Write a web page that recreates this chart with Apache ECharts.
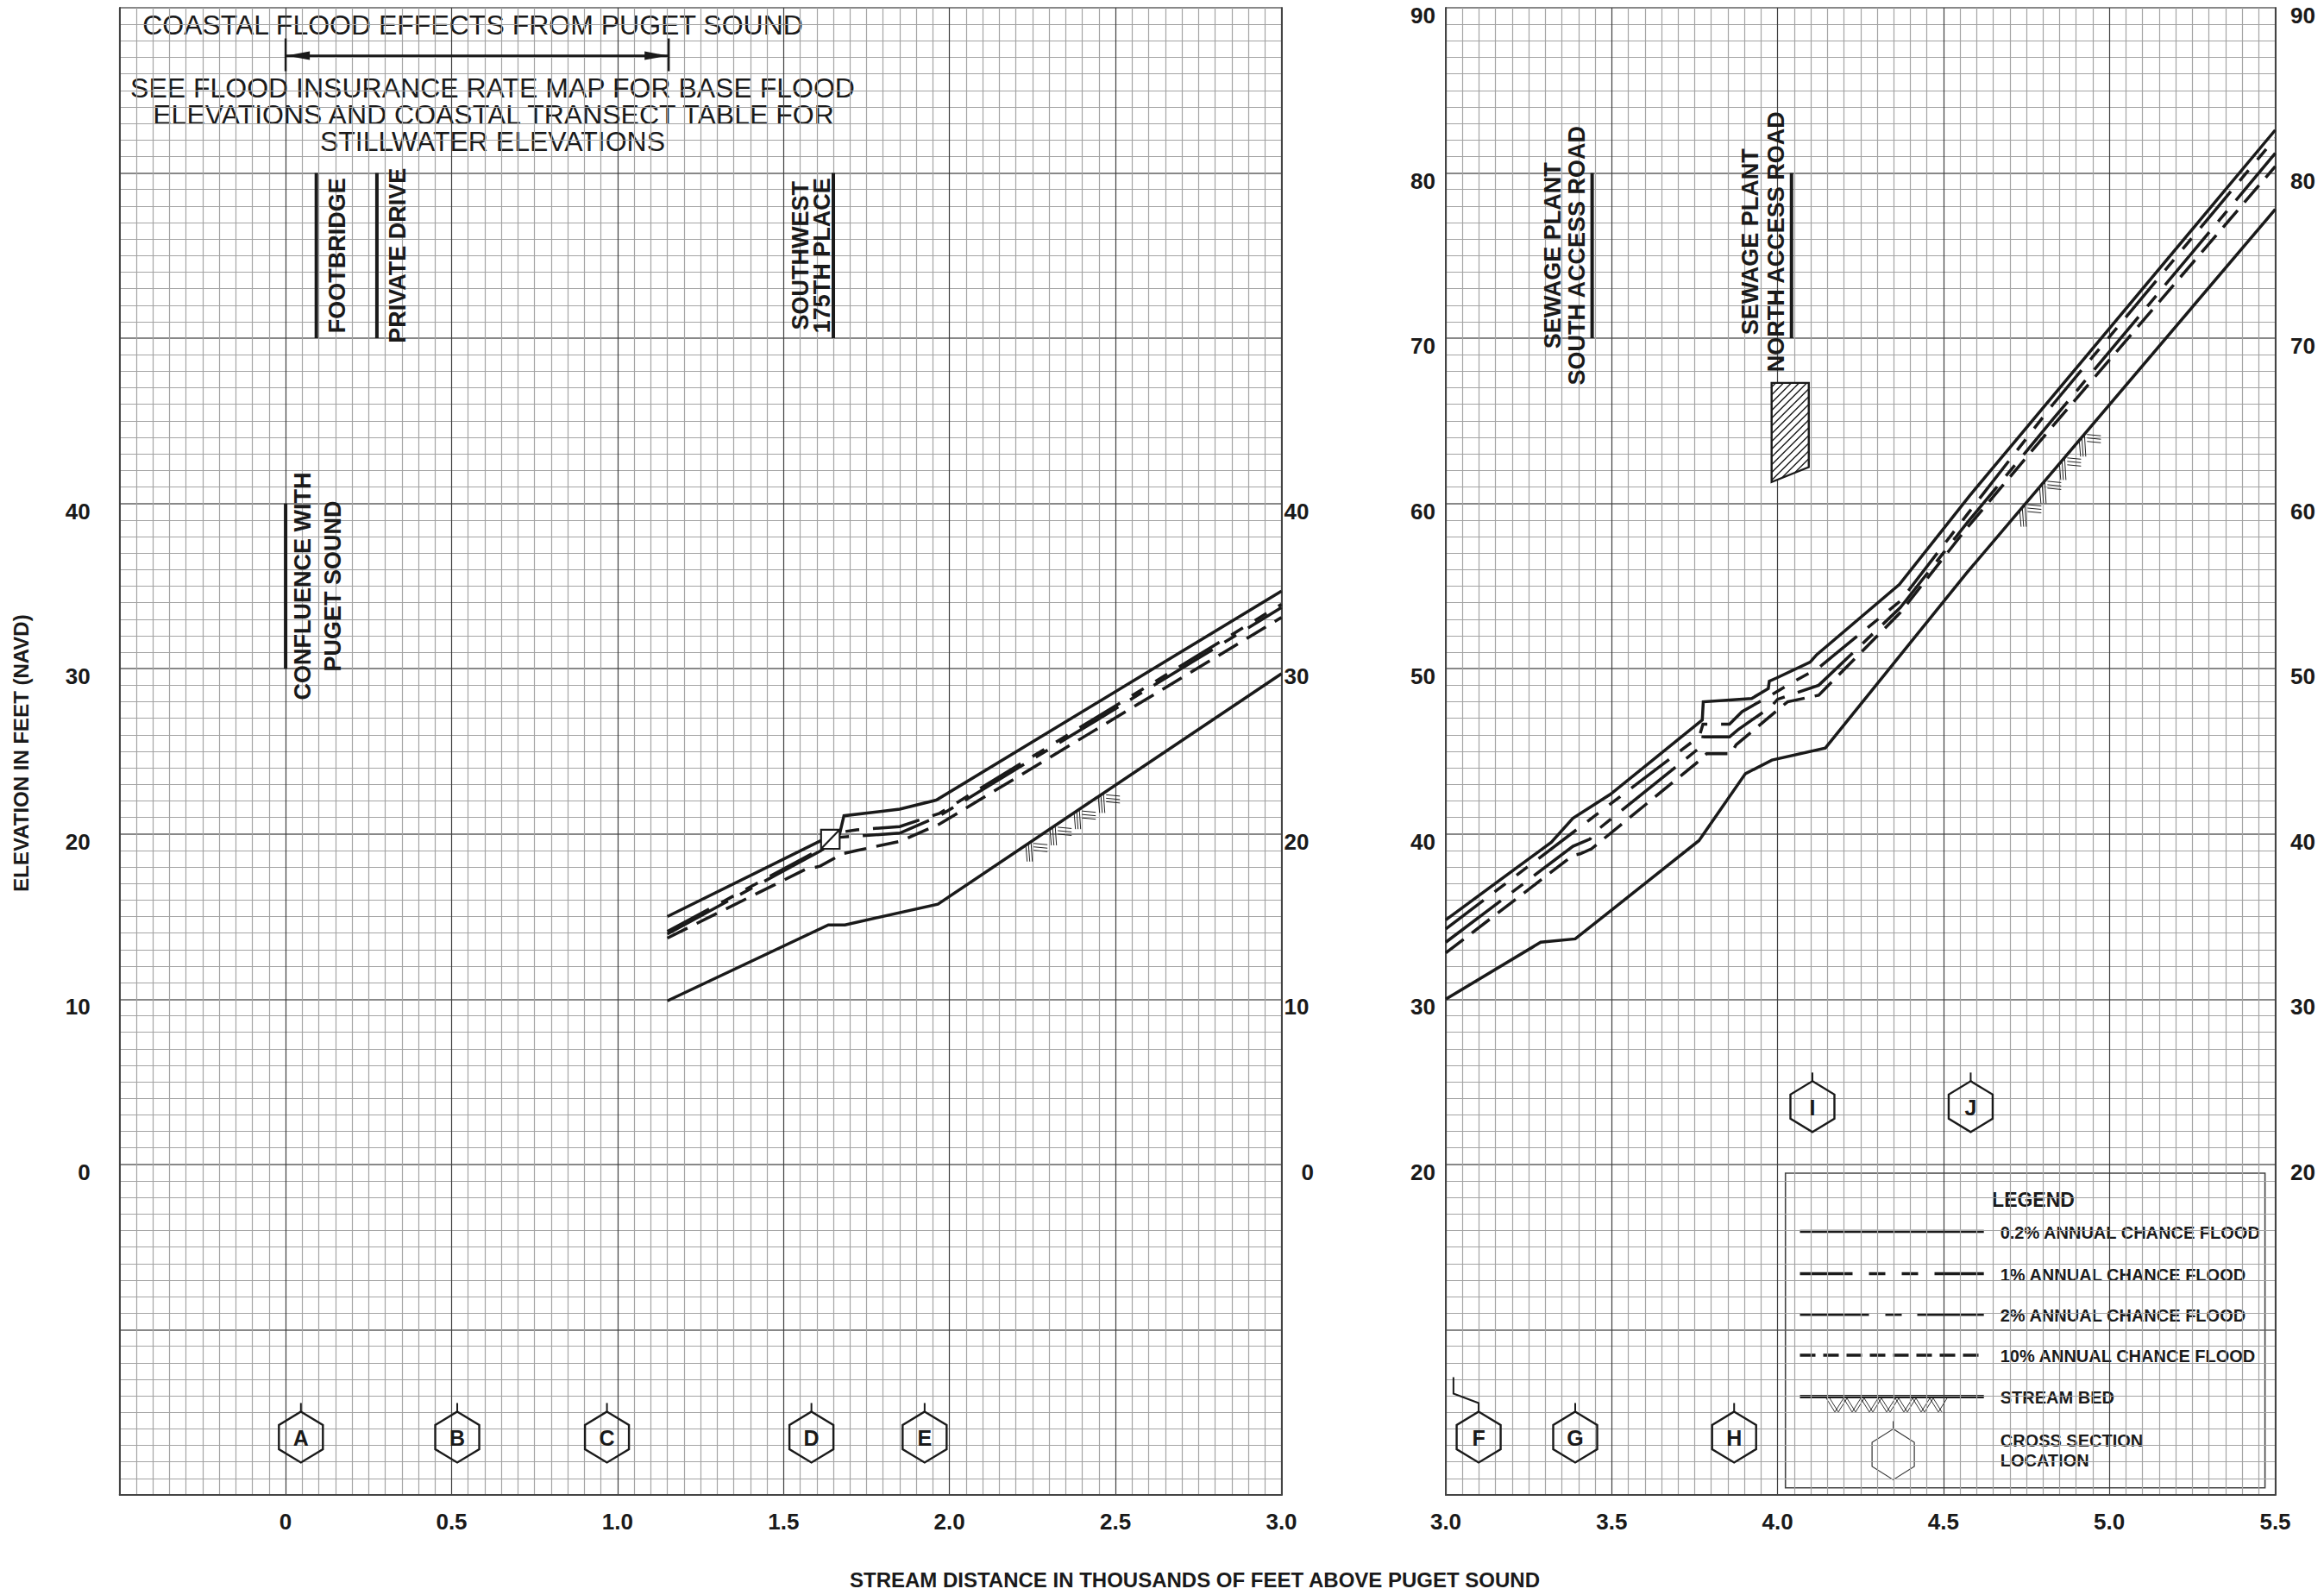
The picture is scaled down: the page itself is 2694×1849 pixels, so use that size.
<!DOCTYPE html>
<html><head><meta charset="utf-8">
<script src="https://cdn.jsdelivr.net/npm/echarts/dist/echarts.min.js"></script>
<style>html,body{margin:0;padding:0;background:#fff;}#c{width:2694px;height:1849px;}</style>
</head><body><div id="c"></div>
<script>
// ================= DATA =================
// tick labels
const xTicksLeft = [0, 0.5, 1.0, 1.5, 2.0, 2.5, 3.0];
const xTicksRight = [3.0, 3.5, 4.0, 4.5, 5.0, 5.5];
const yTicksLeft = [0, 10, 20, 30, 40];
const yTicksRight = [20, 30, 40, 50, 60, 70, 80, 90];

// left panel profiles [stream distance (1000 ft), elevation (ft NAVD)]
const flood02Left = [[1.15,15.0],[1.613,19.6],[1.669,20.0],[1.682,21.1],[1.85,21.5],[1.96,22.05],[3.0,34.7]];
const flood1Left  = [[1.15,14.1],[1.613,19.1],[1.669,20.1],[1.72,20.25],[1.85,20.45],[1.97,21.25],[3.0,33.9]];
const flood2Left  = [[1.15,13.95],[1.613,19.0],[1.669,19.8],[1.85,20.05],[1.97,21.1],[3.0,33.7]];
const flood10Left = [[1.15,13.7],[1.565,17.85],[1.61,18.05],[1.677,18.8],[1.72,19.0],[1.85,19.55],[1.97,20.6],[3.0,33.1]];
const bedLeft     = [[1.15,9.9],[1.635,14.5],[1.685,14.5],[1.965,15.75],[3.0,29.7]];

// right panel profiles
const flood02Right = [[3.0,34.8],[3.318,39.5],[3.383,40.95],[3.496,42.4],[3.773,46.9],[3.776,48.0],[3.922,48.2],[3.972,48.8],[3.975,49.25],[3.998,49.45],[4.098,50.4],[4.118,50.85],[4.367,55.1],[4.58,60.5],[5.5,82.6]];
const flood1Right  = [[3.0,34.25],[3.764,45.9],[3.775,46.65],[3.855,46.65],[3.893,47.4],[3.98,48.4],[4.06,49.35],[4.12,50.0],[4.37,54.1],[4.57,59.3],[4.83,66.0],[5.5,82.1]];
const flood2Right  = [[3.0,33.45],[3.383,39.25],[3.435,39.7],[3.448,40.1],[3.77,45.3],[3.775,45.87],[3.855,45.87],[3.88,46.3],[3.98,47.7],[4.0,48.15],[4.124,49.0],[4.37,53.7],[4.57,58.8],[4.83,65.1],[5.5,81.2]];
const flood10Right = [[3.0,32.8],[3.383,38.7],[3.405,38.8],[3.439,39.1],[3.756,44.3],[3.786,44.86],[3.86,44.86],[3.875,45.4],[4.03,48.0],[4.124,48.4],[4.37,53.4],[4.57,58.5],[4.83,64.7],[5.5,80.4]];
const bedRight     = [[3.0,30.0],[3.286,33.45],[3.39,33.65],[3.5,35.4],[3.763,39.6],[3.903,43.65],[3.983,44.47],[4.144,45.2],[4.57,55.8],[5.5,77.8]];

// stream-bed hatching extents (1000 ft)
const bedHatchLeft = [2.23, 2.52];
const bedHatchRight = [4.73, 4.95];

// cross sections
const xsLettersLeft = ['A','B','C','D','E'];
const xsStationsLeft = [0.046, 0.517, 0.968, 1.584, 1.925];
const xsElevLeft = [-16.5, -16.5, -16.5, -16.5, -16.5];
const xsLettersRight = ['F','G','H','I','J'];
const xsStationsRight = [3.023, 3.39, 3.869, 4.105, 4.582];
const xsLabelPosRight = [3.099, 3.39, 3.869, 4.105, 4.582];
const xsElevRight = [3.5, 3.5, 3.5, 23.5, 23.5];

// structures / road crossings
const roadNamesLeft = ['FOOTBRIDGE', 'PRIVATE DRIVE', 'SOUTHWEST\n175TH PLACE', 'CONFLUENCE WITH\nPUGET SOUND'];
const roadStationsLeft = [0.0925, 0.275, 1.65, 0.0];
const roadLowLeft = [50, 50, 50, 30];
const roadHighLeft = [60, 60, 60, 40];
const roadNamesRight = ['SEWAGE PLANT\nSOUTH ACCESS ROAD', 'SEWAGE PLANT\nNORTH ACCESS ROAD'];
const roadStationsRight = [3.441, 4.042];
const roadLowRight = [70, 70];
const roadHighRight = [80, 80];

// bridge box (left) and road obstruction (right)
const bridgeLeftX = [1.613, 1.669];
const bridgeLeftY = [19.1, 20.26];
const obstructionRight = [[3.982,67.3],[4.094,67.3],[4.094,62.2],[3.982,61.3]];

// coastal flood effects arrow
const coastalFrom = 0.0, coastalTo = 1.154, coastalElev = 67.1;

// texts
const coastalTitle = 'COASTAL FLOOD EFFECTS FROM PUGET SOUND';
const coastalNote = ['SEE FLOOD INSURANCE RATE MAP FOR BASE FLOOD', 'ELEVATIONS AND COASTAL TRANSECT TABLE FOR', 'STILLWATER ELEVATIONS'];
const xTitle = 'STREAM DISTANCE IN THOUSANDS OF FEET ABOVE PUGET SOUND';
const yTitle = 'ELEVATION IN FEET (NAVD)';
const legendLabels = ['0.2% ANNUAL CHANCE FLOOD', '1% ANNUAL CHANCE FLOOD', '2% ANNUAL CHANCE FLOOD', '10% ANNUAL CHANCE FLOOD', 'STREAM BED'];

// ================= STYLE =================
const FONT = '"Liberation Sans", Arial, Helvetica, sans-serif';
const INK = '#1a1a1a';
const DASH1 = [55,16,16,16,16,16];
const DASH2 = [80,16,16,16];
const DASH10 = [26,12];
const LEG_DASH1 = [61,19,19,19,19,19];
const LEG_DASH2 = [80,19,19,18];
const LEG_DASH10 = [18,9];

const roadStyleLeft = {side:['right','right','left','right'], gap:[9,9,1,2], lh:[30,30,25,35], off:[0,0,0,0]};
const roadStyleRight = {side:['left','left'], gap:[4,3], lh:[28,30], off:[0,-16]};

function near(list, v){ return list.some(t => Math.abs(t - v) < 1e-6); }
function fmtX(v){ return Math.abs(v) < 1e-9 ? '0' : v.toFixed(1); }
function interp(arr, x){
  for (let i = 0; i < arr.length - 1; i++) {
    const a = arr[i], b = arr[i+1];
    if (x >= a[0] && x <= b[0]) { const t = (x - a[0]) / ((b[0] - a[0]) || 1); return a[1] + t * (b[1] - a[1]); }
  }
  return arr[arr.length-1][1];
}
function ln(x1,y1,x2,y2,w,c){ return {type:'line', shape:{x1,y1,x2,y2}, style:{stroke:c||INK, lineWidth:w||1}}; }

const labelBase = {fontFamily: FONT, fontWeight: 'bold', fontSize: 26, color: INK};
function xAxisDef(grid, min, max, ticks){
  return {type:'value', gridIndex:grid, min, max, interval:0.5,
    axisLine:{show:true, onZero:false, lineStyle:{color:'#444', width:2}},
    axisTick:{show:false},
    axisLabel: Object.assign({margin:18, showMinLabel:true, showMaxLabel:true, formatter: v => near(ticks, v) ? fmtX(v) : ''}, labelBase),
    splitLine:{show:true, lineStyle:{color:'#404040', width:1.2}},
    minorTick:{show:false, splitNumber:10},
    minorSplitLine:{show:true, lineStyle:{color:'#a4a4a4', width:1.2}}};
}
function yAxisDef(grid, min, max, ticks, pos, margin, grids, zeroShift){
  const rich = {z: {padding:[0,0,0,zeroShift||0], fontFamily:FONT, fontWeight:'bold', fontSize:26, color:INK, lineHeight:18}};
  return {type:'value', gridIndex:grid, min, max, interval:10, position:pos,
    axisLine:{show:true, onZero:false, lineStyle:{color:'#444', width:2}},
    axisTick:{show:false},
    axisLabel: Object.assign({margin, verticalAlign:'top', lineHeight:18, showMinLabel:true, showMaxLabel:true, rich,
      formatter: v => near(ticks, v) ? (zeroShift && Math.abs(v) < 1e-9 ? '{z|0}' : String(Math.round(v))) : ''}, labelBase),
    splitLine:{show:grids, lineStyle:{color:'#606060', width:1.6}},
    minorTick:{show:false, splitNumber:10},
    minorSplitLine:{show:grids, lineStyle:{color:'#a4a4a4', width:1.2}}};
}

function lineSeries(data, xi, yi, type){
  return {type:'line', xAxisIndex:xi, yAxisIndex:yi, data, symbol:'none', showSymbol:false, silent:true, animation:false, z:5,
    lineStyle:{color:INK, width:3.5, type:type, cap:'butt', join:'miter'}};
}

function renderHex(letters, stations){
  return function(params, api){
    const i = api.value(2);
    const p = api.coord([api.value(0), api.value(1)]);
    const cx = p[0], cy = p[1], hw = 25.5, hh = 29.5, hs = 14;
    const pts = [[cx,cy-hh],[cx+hw,cy-hs],[cx+hw,cy+hs],[cx,cy+hh],[cx-hw,cy+hs],[cx-hw,cy-hs]];
    const kids = [{type:'polygon', shape:{points:pts}, style:{fill:'none', stroke:INK, lineWidth:2.4}}];
    const st = api.coord([stations[i], api.value(1)])[0];
    if (Math.abs(st - cx) < 1) kids.push(ln(cx, cy-hh, cx, cy-hh-10, 2));
    else kids.push({type:'polyline', shape:{points:[[cx,cy-hh],[cx,cy-hh-10],[st,cy-hh-21],[st,cy-hh-40]]}, style:{fill:'none', stroke:INK, lineWidth:2}});
    kids.push({type:'text', style:{text:letters[i], x:cx, y:cy+1, align:'center', verticalAlign:'middle', font:'bold 25px '+FONT, fill:INK}});
    return {type:'group', children:kids};
  };
}
function renderRoad(names, st){
  return function(params, api){
    const i = api.value(3);
    const a = api.coord([api.value(0), api.value(1)]);
    const b = api.coord([api.value(0), api.value(2)]);
    const right = st.side[i] === 'right';
    const cy = (a[1] + b[1]) / 2 + st.off[i];
    return {type:'group', children:[
      ln(a[0], a[1], b[0], b[1], 4),
      {type:'text', x: a[0] + (right ? st.gap[i] : -st.gap[i]), y: cy, rotation: Math.PI/2,
       style:{text:names[i], x:0, y:0, align:'center', verticalAlign: right ? 'top' : 'bottom', font:'bold 27px '+FONT, lineHeight: st.lh[i], fill:INK}}
    ]};
  };
}
function renderBedHatch(bed, stepPx){
  return function(params, api){
    const x0 = api.value(0), x1 = api.value(1);
    const p0 = api.coord([x0, interp(bed, x0)]), p1 = api.coord([x1, interp(bed, x1)]);
    const unitPx = (p1[0] - p0[0]) / (x1 - x0);
    const kids = [];
    for (let px = p0[0]; px <= p1[0] + 0.1; px += stepPx) {
      const x = x0 + (px - p0[0]) / unitPx;
      const a = api.coord([x, interp(bed, x)]);
      const b = api.coord([x + 0.01, interp(bed, x + 0.01)]);
      const m = (b[1] - a[1]) / (b[0] - a[0]);
      for (let k = 0; k < 3; k++) { const d = k * 3; kids.push(ln(a[0]+d, a[1]+m*d+1, a[0]+d+1.5, a[1]+19, 1, '#222')); }
      for (let k = 0; k < 3; k++) { const yy = a[1] + m*9 + 4 + k*4; kids.push(ln(a[0]+9, yy, a[0]+25, yy+1.5, 1, '#222')); }
    }
    return {type:'group', children:kids};
  };
}
function renderBridge(params, api){
  const a = api.coord([api.value(0), api.value(1)]);
  const b = api.coord([api.value(2), api.value(3)]);
  const x = Math.min(a[0], b[0]), y = Math.min(a[1], b[1]);
  return {type:'group', children:[
    {type:'rect', shape:{x, y, width:Math.abs(b[0]-a[0]), height:Math.abs(b[1]-a[1])}, style:{fill:'#fff', stroke:INK, lineWidth:2.2}},
    ln(a[0], a[1], b[0], b[1], 2.2)
  ]};
}
function renderObstruction(params, api){
  const pts = obstructionRight.map(p => api.coord(p));
  const kids = [{type:'polygon', shape:{points:pts}, style:{fill:'#fff', stroke:'none'}}];
  const sums = pts.map(p => p[0] + p[1]);
  const cmin = Math.min(...sums), cmax = Math.max(...sums);
  for (let c = cmin + 5; c < cmax; c += 9) {
    const hits = [];
    for (let i = 0; i < pts.length; i++) {
      const A = pts[i], B = pts[(i+1) % pts.length];
      const fa = A[0] + A[1] - c, fb = B[0] + B[1] - c;
      if ((fa <= 0 && fb > 0) || (fa > 0 && fb <= 0)) { const t = fa / (fa - fb); hits.push([A[0] + t*(B[0]-A[0]), A[1] + t*(B[1]-A[1])]); }
    }
    if (hits.length >= 2) kids.push(ln(hits[0][0], hits[0][1], hits[1][0], hits[1][1], 1.4));
  }
  kids.push({type:'polygon', shape:{points:pts}, style:{fill:'none', stroke:INK, lineWidth:2.4}});
  return {type:'group', children:kids};
}
function renderCoastal(params, api){
  const a = api.coord([api.value(0), api.value(2)]);
  const b = api.coord([api.value(1), api.value(2)]);
  const y = a[1];
  return {type:'group', children:[
    ln(a[0], y-20, a[0], y+18, 2.5), ln(b[0], y-20, b[0], y+18, 2.5),
    ln(a[0], y, b[0], y, 2.8),
    {type:'polygon', shape:{points:[[a[0]+1,y],[a[0]+28,y-5],[a[0]+28,y+5]]}, style:{fill:INK}},
    {type:'polygon', shape:{points:[[b[0]-1,y],[b[0]-28,y-5],[b[0]-28,y+5]]}, style:{fill:INK}}
  ]};
}
function customSeries(xi, yi, data, renderItem, z){
  return {type:'custom', coordinateSystem:'cartesian2d', xAxisIndex:xi, yAxisIndex:yi, data, renderItem, z:z||6, silent:true, animation:false, clip:false};
}

// ================= CHART =================
const chart = echarts.init(document.getElementById('c'), null, {renderer:'svg', width:2694, height:1849});

const G1 = {left:138.7, top:9, width:1346.8, height:1724};
const G2 = {left:1676, top:9, width:961.5, height:1724};

// legend layout (pixels)
const LG = {bx:2062, by:1352, bw:574, bh:380, fx:2069.7, fy:1360, fw:555.9, fh:364.8,
            titleX:2357, titleY:1391, sx1:2086.5, sx2:2299.7, tx:2318.7, rows:[1427.6,1476.6,1523.8,1571,1618.9],
            hexX:2194.6, hexY:1686, csY1:1670, csY2:1693};
const legendDashes = [null, LEG_DASH1, LEG_DASH2, LEG_DASH10, null];
const legendKids = [
  {type:'rect', shape:{x:LG.bx, y:LG.by, width:LG.bw, height:LG.bh}, style:{fill:'#fff'}},
  {type:'rect', shape:{x:LG.fx, y:LG.fy, width:LG.fw, height:LG.fh}, style:{fill:'#fff', stroke:'#444', lineWidth:1.6}},
  {type:'text', style:{text:'LEGEND', x:LG.titleX, y:LG.titleY, align:'center', verticalAlign:'middle', font:'bold 23px '+FONT, fill:INK}}
];
legendLabels.forEach((t, i) => {
  const y = LG.rows[i];
  const st = {stroke:INK, lineWidth: i === 4 ? 4 : 3.5};
  if (legendDashes[i]) st.lineDash = legendDashes[i];
  legendKids.push({type:'line', shape:{x1:LG.sx1, y1:y, x2:LG.sx2, y2:y}, style:st});
  legendKids.push({type:'text', style:{text:t, x:LG.tx, y:y+1, align:'left', verticalAlign:'middle', font:'bold 20px '+FONT, fill:INK}});
});
// stream bed zigzag sample
(function(){
  const y0 = LG.rows[4] + 2, y1 = LG.rows[4] + 18;
  for (let o = 0; o < 2; o++) {
    const pts = [];
    let k = 0;
    for (let x = 2117 + o*4; x <= 2258; x += 10) { pts.push([x, k % 2 === 0 ? y0 : y1]); k++; }
    legendKids.push({type:'polyline', shape:{points:pts}, style:{fill:'none', stroke:'#333', lineWidth:1}});
  }
})();
(function(){
  const cx = LG.hexX, cy = LG.hexY, hw = 24.5, hh = 29.4, hs = 14;
  legendKids.push({type:'polygon', shape:{points:[[cx,cy-hh],[cx+hw,cy-hs],[cx+hw,cy+hs],[cx,cy+hh],[cx-hw,cy+hs],[cx-hw,cy-hs]]}, style:{fill:'none', stroke:'#333', lineWidth:1.2}});
  legendKids.push(ln(cx, cy-hh, cx, cy-hh-9, 1.2, '#333'));
  legendKids.push({type:'text', style:{text:'CROSS SECTION', x:LG.tx, y:LG.csY1, align:'left', verticalAlign:'middle', font:'bold 20px '+FONT, fill:INK}});
  legendKids.push({type:'text', style:{text:'LOCATION', x:LG.tx, y:LG.csY2, align:'left', verticalAlign:'middle', font:'bold 20px '+FONT, fill:INK}});
})();

const textKids = [
  {type:'text', style:{text:coastalTitle, x:548, y:29, align:'center', verticalAlign:'middle', font:'32px '+FONT, fill:INK}},
  {type:'text', style:{text:coastalNote[0], x:571, y:102, align:'center', verticalAlign:'middle', font:'32px '+FONT, fill:INK}},
  {type:'text', style:{text:coastalNote[1], x:572, y:133, align:'center', verticalAlign:'middle', font:'32px '+FONT, fill:INK}},
  {type:'text', style:{text:coastalNote[2], x:571, y:164, align:'center', verticalAlign:'middle', font:'32px '+FONT, fill:INK}},
  {type:'text', style:{text:xTitle, x:1385, y:1831, align:'center', verticalAlign:'middle', font:'bold 24px '+FONT, fill:INK}},
  {type:'text', x:24, y:873, rotation:Math.PI/2, style:{text:yTitle, x:0, y:0, align:'center', verticalAlign:'middle', font:'bold 24px '+FONT, fill:INK}}
];

const option = {
  animation:false,
  backgroundColor:'#fff',
  grid:[Object.assign({outerBoundsMode:'none', containLabel:false}, G1), Object.assign({outerBoundsMode:'none', containLabel:false}, G2)],
  xAxis:[xAxisDef(0, -0.5, 3.0, xTicksLeft), xAxisDef(1, 3.0, 5.5, xTicksRight)],
  yAxis:[
    yAxisDef(0, -20, 70, yTicksLeft, 'left', 34, true),
    yAxisDef(0, -20, 70, yTicksLeft, 'right', 3, false, 20),
    yAxisDef(1, 0, 90, yTicksRight, 'left', 12, true),
    yAxisDef(1, 0, 90, yTicksRight, 'right', 17.5, false)
  ],
  series:[
    lineSeries(bedLeft, 0, 0, 'solid'),
    lineSeries(flood10Left, 0, 0, DASH10),
    lineSeries(flood2Left, 0, 0, DASH2),
    lineSeries(flood1Left, 0, 0, DASH1),
    lineSeries(flood02Left, 0, 0, 'solid'),
    lineSeries(bedRight, 1, 2, 'solid'),
    lineSeries(flood10Right, 1, 2, DASH10),
    lineSeries(flood2Right, 1, 2, DASH2),
    lineSeries(flood1Right, 1, 2, DASH1),
    lineSeries(flood02Right, 1, 2, 'solid'),
    customSeries(0, 0, [bedHatchLeft], renderBedHatch(bedLeft, 28)),
    customSeries(1, 2, [bedHatchRight], renderBedHatch(bedRight, 23)),
    customSeries(0, 0, [[bridgeLeftX[0], bridgeLeftY[0], bridgeLeftX[1], bridgeLeftY[1]]], renderBridge, 8),
    customSeries(1, 2, [[obstructionRight[0][0], obstructionRight[0][1]]], renderObstruction, 8),
    customSeries(0, 0, [[coastalFrom, coastalTo, coastalElev]], renderCoastal),
    customSeries(0, 0, xsStationsLeft.map((x, i) => [x, xsElevLeft[i], i]), renderHex(xsLettersLeft, xsStationsLeft)),
    customSeries(1, 2, xsLabelPosRight.map((x, i) => [x, xsElevRight[i], i]), renderHex(xsLettersRight, xsStationsRight)),
    customSeries(0, 0, roadStationsLeft.map((x, i) => [x, roadLowLeft[i], roadHighLeft[i], i]), renderRoad(roadNamesLeft, roadStyleLeft)),
    customSeries(1, 2, roadStationsRight.map((x, i) => [x, roadLowRight[i], roadHighRight[i], i]), renderRoad(roadNamesRight, roadStyleRight))
  ],
  graphic:[
    {type:'group', z:100, children:legendKids},
    {type:'group', z:100, children:textKids}
  ]
};
chart.setOption(option);
</script></body></html>
